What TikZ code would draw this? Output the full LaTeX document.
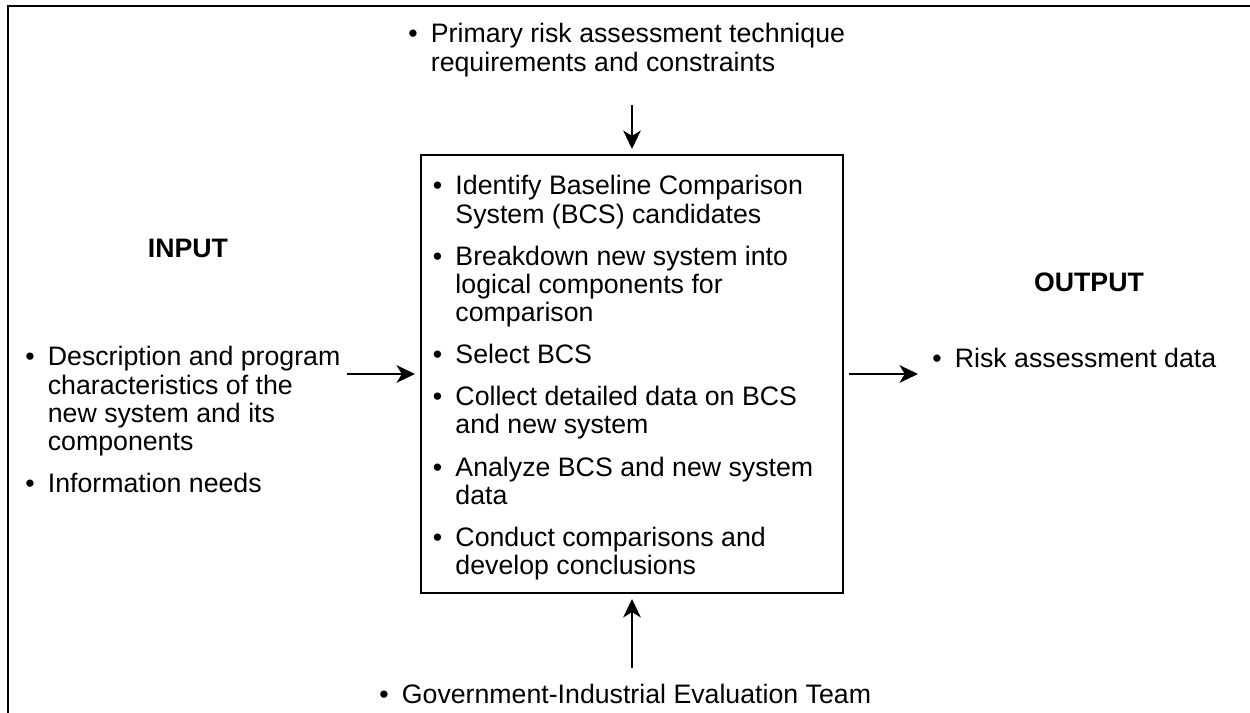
\documentclass[tikz,border=0pt]{standalone}
\usepackage{fontspec}
\setmainfont{Liberation Sans}
\usetikzlibrary{arrows.meta,positioning}
\newcommand{\bullist}[1]{\begin{tabular}[t]{@{}l@{\hspace{7.5pt}}l@{}}#1\end{tabular}}

\begin{document}
\begin{tikzpicture}[
  x=0.2mm, y=-0.2mm,
  every node/.style={inner sep=0pt, font=\fontsize{15.2}{16}\selectfont},
  txt/.style={anchor=base west},
  head/.style={anchor=base, font=\fontsize{15.2}{16}\selectfont\bfseries},
  box/.style={draw, line width=1.1pt, minimum width=84.4mm, minimum height=87.6mm, outer sep=3.4pt},
  arr/.style={-{Stealth[length=10.5pt, width=10pt, inset=3pt]}, line width=1.1pt},
]
  \useasboundingbox (0,0) rectangle (1250,713);
  % Frame
  \draw[line width=1.1pt] (8,713) -- (8,6) -- (1250,6);

  % Process
  \node[box] (proc) at (632,374) {};
  \node[txt] (steps) at (432.6,195) {\bullist{%
    \textbullet & Identify Baseline Comparison\\
     & System (BCS) candidates\\[8pt]
    \textbullet & Breakdown new system into\\
     & logical components for\\
     & comparison\\[8pt]
    \textbullet & Select BCS\\[8pt]
    \textbullet & Collect detailed data on BCS\\
     & and new system\\[8pt]
    \textbullet & Analyze BCS and new system\\
     & data\\[8pt]
    \textbullet & Conduct comparisons and\\
     & develop conclusions}};

  % Constraints and team
  \node[txt] (req) at (408,43) {\bullist{%
    \textbullet & Primary risk assessment technique\\
     & requirements and constraints}};
  \node[txt] (team) at (379,703) {\bullist{%
    \textbullet & Government-Industrial Evaluation Team}};

  % Input
  \node[head] (hin) at (188,258) {INPUT};
  \node[txt] (inlist) at (25,366) {\bullist{%
    \textbullet & Description and program\\
     & characteristics of the\\
     & new system and its\\
     & components\\[8pt]
    \textbullet & Information needs}};

  % Output
  \node[head] (hout) at (1089,292) {OUTPUT};
  \node[txt] (outlist) at (932,368) {\bullist{%
    \textbullet & Risk assessment data}};

  % Arrows
  \draw[arr, shorten <=5mm] (req.south -| proc.north) -- (proc.north);
  \draw[arr, shorten <=3mm] (team.north -| proc.south) -- (proc.south);
  \draw[arr, shorten <=1.2mm] (inlist.east |- proc.west) -- (proc.west);
  \draw[arr, shorten >=2.8mm] (proc.east) -- (outlist.west |- proc.east);
\end{tikzpicture}
\end{document}
